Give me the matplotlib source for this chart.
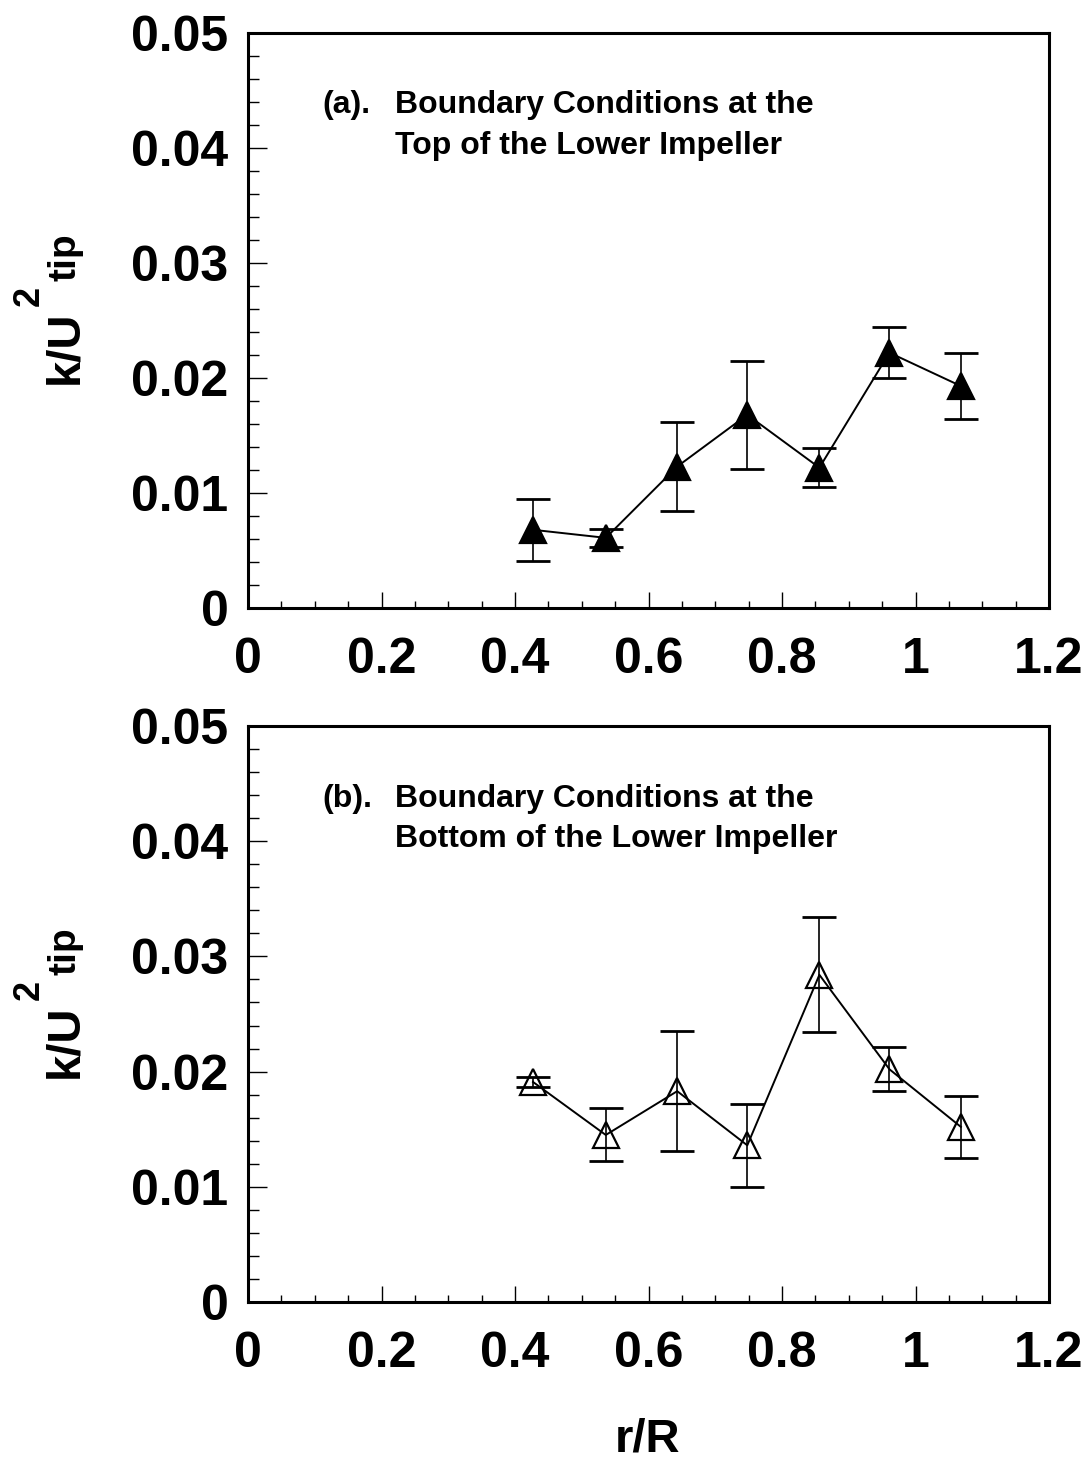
"""Turbulent kinetic energy boundary conditions at the lower impeller, two stacked panels."""

import matplotlib

matplotlib.use("Agg")
import matplotlib.pyplot as plt
from matplotlib.ticker import MultipleLocator

plt.rcParams["font.family"] = ["Liberation Sans", "DejaVu Sans"]

# radial positions r/R (same for both panels)
r_over_R = [0.427, 0.536, 0.643, 0.748, 0.856, 0.961, 1.068]

# (a) top of the lower impeller
k_top = [0.0068, 0.0061, 0.0123, 0.0168, 0.0122, 0.0222, 0.0193]
err_top = [0.0027, 0.0008, 0.0039, 0.0047, 0.0017, 0.0022, 0.0029]

# (b) bottom of the lower impeller
k_bottom = [0.0191, 0.0145, 0.0183, 0.0136, 0.0284, 0.0202, 0.0152]
err_bottom = [0.0004, 0.0023, 0.0052, 0.0036, 0.0050, 0.0019, 0.0027]

x_ticks = [0, 0.2, 0.4, 0.6, 0.8, 1.0, 1.2]
x_tick_labels = ["0", "0.2", "0.4", "0.6", "0.8", "1", "1.2"]
y_ticks = [0, 0.01, 0.02, 0.03, 0.04, 0.05]
y_tick_labels = ["0", "0.01", "0.02", "0.03", "0.04", "0.05"]

panel_text = [
    ("(a).", "Boundary Conditions at the", "Top of the Lower Impeller"),
    ("(b).", "Boundary Conditions at the", "Bottom of the Lower Impeller"),
]

W, H = 1085, 1474
fig = plt.figure(figsize=(W / 100, H / 100), dpi=100)


def fx(px):
    return px / W


def fy(py):
    return 1 - py / H


left, width = 248 / W, 801 / W
ax_top = fig.add_axes([left, fy(608), width, 575 / H])
ax_bot = fig.add_axes([left, fy(1302), width, 576 / H])

series = [
    (ax_top, k_top, err_top, "black", 0),
    (ax_bot, k_bottom, err_bottom, "none", 694),
]

for i, (ax, k, err, face, dy) in enumerate(series):
    ax.errorbar(
        r_over_R, k, yerr=err, fmt="none", ecolor="black",
        elinewidth=1.2, capsize=12, capthick=2.0, zorder=2,
    )
    ax.plot(r_over_R, k, color="black", linewidth=1.4, zorder=3)
    ax.plot(
        r_over_R, k, linestyle="none", marker="^", markersize=19,
        markerfacecolor=face, markeredgecolor="black",
        markeredgewidth=1.6, zorder=4,
    )

    ax.set_xlim(0, 1.2)
    ax.set_ylim(0, 0.05)
    ax.set_xticks(x_ticks, x_tick_labels)
    ax.set_yticks(y_ticks, y_tick_labels)
    ax.xaxis.set_minor_locator(MultipleLocator(0.05))
    ax.yaxis.set_minor_locator(MultipleLocator(0.002))

    ax.tick_params(axis="both", which="both", direction="in",
                   top=False, right=False, width=1.0)
    ax.tick_params(axis="x", which="major", length=11.5, pad=21)
    ax.tick_params(axis="x", which="minor", length=5)
    ax.tick_params(axis="y", which="major", length=14, pad=14)
    ax.tick_params(axis="y", which="minor", length=8)
    for lab in ax.get_xticklabels() + ax.get_yticklabels():
        lab.set_fontsize(36)
        lab.set_fontweight("bold")
    for sp in ax.spines.values():
        sp.set_linewidth(2.2)

    # y label k/U^2_tip built from pieces (rotated, reading upward)
    lab_kw = dict(rotation=90, rotation_mode="anchor", ha="left",
                  va="baseline", fontweight="bold")
    fig.text(fx(77), fy(384 + dy), "k/U", fontsize=34, **lab_kw)
    fig.text(fx(39), fy(306 + dy), "2", fontsize=26, **lab_kw)
    fig.text(fx(75), fy(281 + dy), "tip", fontsize=28, **lab_kw)

    tag, line1, line2 = panel_text[i]
    ax.text(0.0924, 0.860, tag, transform=ax.transAxes, fontsize=23,
            fontweight="bold", va="baseline", ha="left")
    ax.text(0.1835, 0.860, line1, transform=ax.transAxes, fontsize=23,
            fontweight="bold", va="baseline", ha="left")
    ax.text(0.1835, 0.7895, line2, transform=ax.transAxes, fontsize=23,
            fontweight="bold", va="baseline", ha="left")

fig.text(fx(648), fy(1440), "r/R", fontsize=34, fontweight="bold",
         ha="center", va="center")

fig.savefig("out.png", dpi=100)
